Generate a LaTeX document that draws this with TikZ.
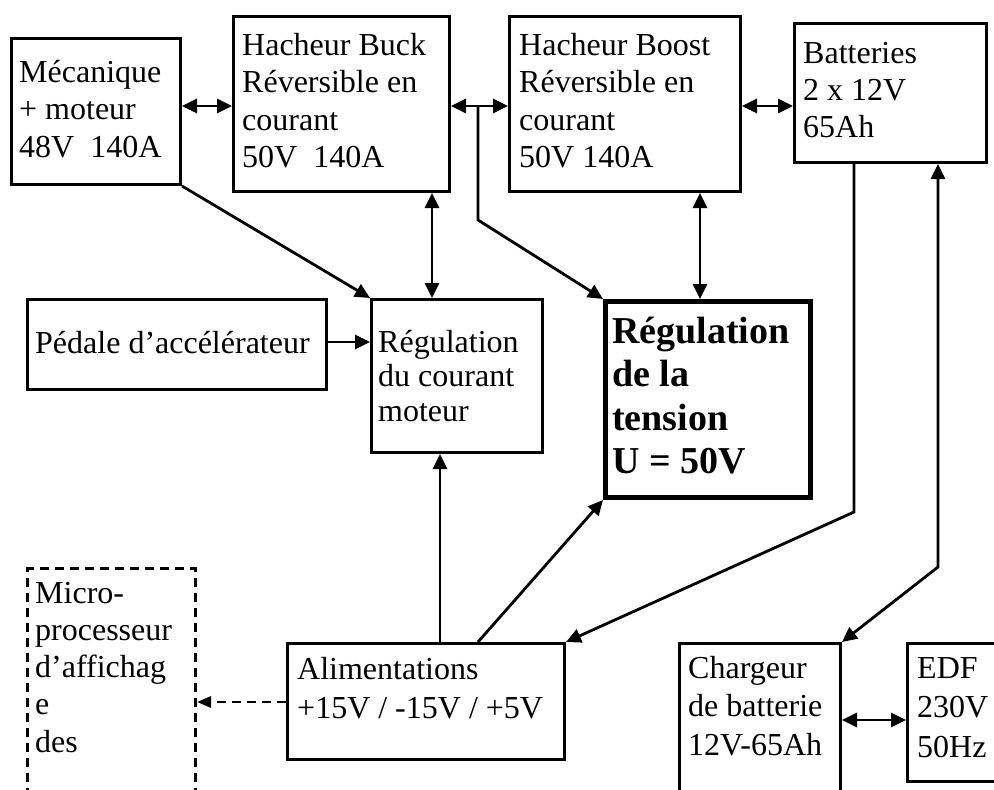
\documentclass[tikz,border=0pt]{standalone}
\usepackage{fontspec}
\setmainfont{Liberation Serif}
\usetikzlibrary{arrows.meta}
\newcommand\txtsz[1]{\fontsize{32}{#1}\selectfont}
\begin{document}
\begin{tikzpicture}[x=1pt,y=-1pt,
  box/.style={draw,line width=3pt,inner sep=0pt,anchor=north west},
  txt/.style={inner sep=0pt,anchor=base west},
  con/.style={line width=2.8pt},
  tip/.style={-{Triangle[length=15pt,width=14pt]}},
  dbl/.style={con,{Triangle[length=15pt,width=14pt]}-{Triangle[length=15pt,width=14pt]}},
  dsh/.style={con,dash pattern=on 9pt off 6pt,-{Triangle[length=14pt,width=11pt]}}]
\fill[white] (0,0) rectangle (994,790);
\clip (0,0) rectangle (994,790);
% boxes
\node[box,minimum width=169pt,minimum height=146pt] (meca) at (10,37) {};
\node[box,minimum width=216pt,minimum height=175pt] (buck) at (232,15) {};
\node[box,minimum width=231pt,minimum height=175pt] (boost) at (508,15) {};
\node[box,minimum width=192pt,minimum height=139pt] (batt) at (793,22) {};
\node[box,minimum width=299pt,minimum height=90pt] (pedale) at (26,298) {};
\node[box,minimum width=171pt,minimum height=153pt] (regc) at (370,298) {};
\node[box,line width=5pt,minimum width=205pt,minimum height=196pt] (regt) at (603,299) {};
\node[box,dash pattern=on 9pt off 6pt,minimum width=168pt,minimum height=300pt] (micro) at (26,567) {};
\node[box,minimum width=277pt,minimum height=116pt] (alim) at (286,642) {};
\node[box,minimum width=161pt,minimum height=200pt] (charg) at (678,642) {};
\node[box,minimum width=150pt,minimum height=138pt] (edf) at (906,642) {};
% texts
\node[txt] (tmeca) at (19,82) {\parbox[t]{200pt}{\txtsz{37.5}Mécanique\\+ moteur\\48V\ \ 140A}};
\node[txt] (tbuck) at (242,55) {\parbox[t]{220pt}{\txtsz{37.5}Hacheur Buck\\Réversible en\\courant\\50V\ \ 140A}};
\node[txt] (tboost) at (519,55) {\parbox[t]{230pt}{\txtsz{37.5}Hacheur Boost\\Réversible en\\courant\\50V 140A}};
\node[txt] (tbatt) at (803,63) {\parbox[t]{190pt}{\txtsz{37}Batteries\\2 x 12V\\65Ah}};
\node[txt] (tpedale) at (35,353) {\txtsz{37}Pédale d’accélérateur};
\node[txt] (tregc) at (378,352) {\parbox[t]{170pt}{\txtsz{34.5}Régulation\\du courant\\moteur}};
\node[txt] (tregt) at (612,343) {\parbox[t]{200pt}{\bfseries\fontsize{38}{43.5}\selectfont Régulation\\de la\\tension\\U = 50V}};
\node[txt] (tmicro) at (35,603) {\parbox[t]{160pt}{\txtsz{37.3}Micro-\\processeur\\d’affichag\\e\\des}};
\node[txt] (talim) at (297,679) {\parbox[t]{270pt}{\txtsz{39}Alimentations\\+15V / -15V / +5V}};
\node[txt] (tcharg) at (688,678) {\parbox[t]{160pt}{\txtsz{38.5}Chargeur\\de batterie\\12V-65Ah}};
\node[txt] (tedf) at (917,678) {\parbox[t]{100pt}{\txtsz{39.5}EDF\\230V\\50Hz}};
% helper coordinates
\coordinate (hA) at (0,106);
\coordinate (b1) at (478,106);
\coordinate (b2) at (478,220);
\coordinate (xB) at (432,0);
\coordinate (xC) at (700,0);
\coordinate (hP) at (0,342);
\coordinate (xD) at (440,0);
\coordinate (xE) at (478,0);
\coordinate (xF) at (854,0);
\coordinate (k1) at (854,512);
\coordinate (k2) at (938,567);
\coordinate (xG) at (938,0);
\coordinate (hQ) at (0,720);
\coordinate (hR) at (0,702);
% connectors
\draw[dbl] (meca.east|-hA) -- (buck.west|-hA);
\draw[dbl] (buck.east|-hA) -- (boost.west|-hA);
\draw[dbl] (boost.east|-hA) -- (batt.west|-hA);
\draw[con,tip] (b1) -- (b2) -- (regt.north west);
\draw[con,tip] (meca.south east) -- (regc.north west);
\draw[dbl] (buck.south-|xB) -- (regc.north-|xB);
\draw[dbl] (boost.south-|xC) -- (regt.north-|xC);
\draw[con,tip] (pedale.east|-hP) -- (regc.west|-hP);
\draw[con,tip] (alim.north-|xD) -- (regc.south-|xD);
\draw[con,tip] (alim.north-|xE) -- (regt.south west);
\draw[con,tip] (batt.south-|xF) -- (k1) -- (alim.north east);
\draw[dbl] (charg.north east) -- (k2) -- (batt.south-|xG);
\draw[dbl] (charg.east|-hQ) -- (edf.west|-hQ);
\draw[dsh] (alim.west|-hR) -- (micro.east|-hR);
\end{tikzpicture}
\end{document}
